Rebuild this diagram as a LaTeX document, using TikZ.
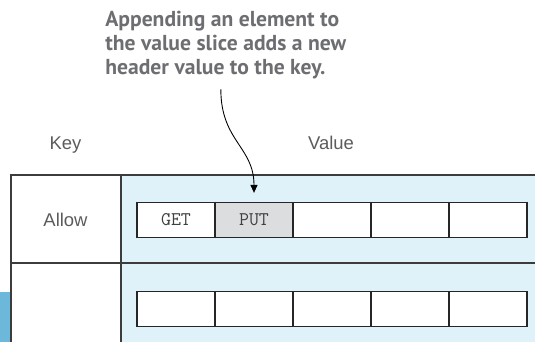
\documentclass[tikz,border=0pt]{standalone}
\usepackage{fontspec}
\setsansfont{Liberation Sans}
\newfontfamily\notefont{PT Sans}
\usetikzlibrary{arrows.meta}
\definecolor{notegray}{HTML}{6D6E71}
\definecolor{headgray}{HTML}{5A5B5D}
\definecolor{linegray}{HTML}{3C3C3C}
\definecolor{valueblue}{HTML}{DFF2FA}
\definecolor{tabblue}{HTML}{6CB8DA}
\definecolor{putgray}{HTML}{DCDDDF}
\tikzstyle{cell} = [draw=black!85, line width=0.7pt, fill=white, minimum width=1.56cm, minimum height=0.71cm, inner sep=0pt, font=\ttfamily\fontsize{11}{13}\selectfont, text=black!75]
\tikzstyle{heading} = [font=\sffamily\fontsize{10.5}{12}\selectfont, text=headgray, anchor=base, inner sep=0pt]
\tikzstyle{note} = [font=\notefont\bfseries\fontsize{12.3}{13.6}\selectfont, text=notegray, align=left, inner sep=0pt, anchor=north west]

\begin{document}
\begin{tikzpicture}[x=0.02cm, y=-0.02cm]
	  \useasboundingbox (0,0) rectangle (535,342);
	  \fill [valueblue] (121,175) rectangle (535,342);
	  \fill [tabblue] (0,292) rectangle (11,342);
	  \draw [linegray, line width=0.6pt] (535,175) -- (11,175) -- (11,342);
	  \draw [linegray, line width=0.6pt] (121,175) -- (121,342);
	  \draw [linegray, line width=0.6pt] (11,263) -- (535,263);

	  \node (key) at (65.5,149) [heading] {Key};
	  \node (value) at (331,149) [heading] {Value};
	  \node (allow) at (65.5,226) [heading] {Allow};

	  \node (a1) at (176,220) [cell] {GET};
	  \node (a2) at (254,220) [cell, fill=putgray] {PUT};
	  \node (a3) at (332,220) [cell] {};
	  \node (a4) at (410,220) [cell] {};
	  \node (a5) at (488,220) [cell] {};
	  \node (b1) at (176,309) [cell] {};
	  \node (b2) at (254,309) [cell] {};
	  \node (b3) at (332,309) [cell] {};
	  \node (b4) at (410,309) [cell] {};
	  \node (b5) at (488,309) [cell] {};

	  \node (note) at (105,11) [note] {Appending an element to\\the value slice adds a new\\header value to the key.};

	  \draw [-{Triangle[width=4pt,length=4.5pt]}, line width=0.5pt, shorten >=5pt] ([xshift=-0.1cm, yshift=-0.2cm]note.south) .. controls +(0,52) and +(0,-55) .. (a2.north);
\end{tikzpicture}
\end{document}
